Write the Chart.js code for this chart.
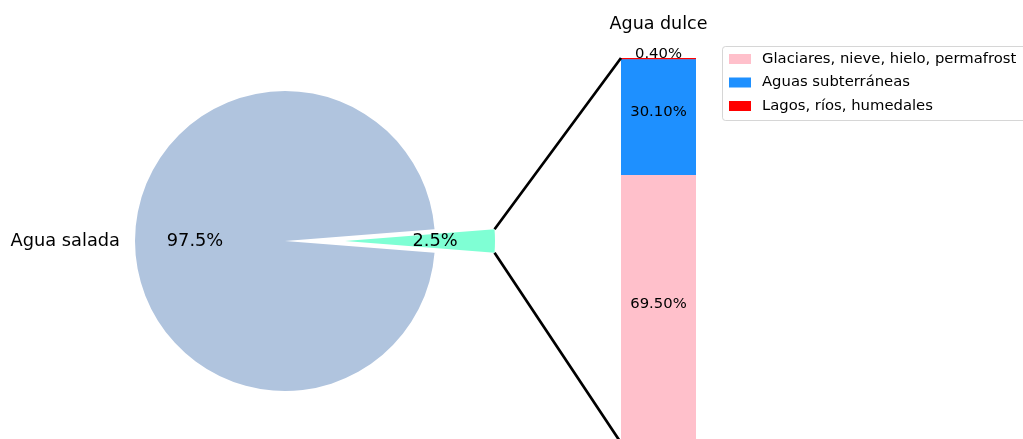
<!DOCTYPE html>
<html>
<head>
<meta charset="utf-8">
<script src="https://cdn.jsdelivr.net/npm/chart.js@4/dist/chart.umd.min.js"></script>
<style>
  html, body { margin: 0; padding: 0; background: #fff; overflow: hidden; }
  #wrap { position: relative; width: 1023px; height: 439px; }
  #wrap canvas { position: absolute; left: 0; top: 0; }
</style>
</head>
<body>
<div id="wrap">
  <canvas id="pie" width="1023" height="439"></canvas>
  <canvas id="wedge" width="1023" height="439"></canvas>
  <canvas id="bar" width="1023" height="439"></canvas>
</div>
<script>
var pieLabels = ["Agua salada", ""];
var pieValues = [97.5, 2.5];
var pieColors = ["#B0C4DE", "#7FFFD4"];

var barTitle = "Agua dulce";
var barLabels = ["Glaciares, nieve, hielo, permafrost", "Aguas subterráneas", "Lagos, ríos, humedales"];
var barValues = [69.5, 30.1, 0.4];
var barColors = ["#FFC0CB", "#1E90FF", "#FF0000"];

var FONT = "'DejaVu Sans', sans-serif";

// text for the slices; each pie canvas shows only one slice
var pieText = {
  id: 'pieText',
  afterDatasetsDraw: function(chart, args, opts) {
    var c = chart.ctx;
    var i = opts.slice;
    var arc = chart.getDatasetMeta(0).data[i];
    var mid = (arc.startAngle + arc.endAngle) / 2;
    var r = arc.outerRadius;
    c.save();
    c.fillStyle = '#000';
    c.textBaseline = 'middle';
    c.font = '17.8px ' + FONT;
    c.textAlign = 'center';
    c.fillText(pieValues[i].toFixed(1) + '%', arc.x + Math.cos(mid) * r * 0.6, arc.y + Math.sin(mid) * r * 0.6);
    if (pieLabels[i]) {
      var lx = arc.x + Math.cos(mid) * r * 1.1;
      c.textAlign = lx < arc.x ? 'right' : 'left';
      c.fillText(pieLabels[i], lx, arc.y + Math.sin(mid) * r * 1.1);
    }
    c.restore();
  }
};

function makePie(id, slice, pad) {
  return new Chart(document.getElementById(id), {
    type: 'pie',
    data: {
      labels: pieLabels,
      datasets: [{
        data: pieValues,
        backgroundColor: pieColors.map(function(col, k) { return k === slice ? col : 'rgba(0,0,0,0)'; }),
        borderWidth: 0
      }]
    },
    options: {
      responsive: false,
      animation: false,
      events: [],
      radius: 150,
      rotation: 90 + pieValues[1] / 100 * 360 / 2,
      layout: { padding: pad },
      plugins: { legend: { display: false }, tooltip: { enabled: false }, pieText: { slice: slice } }
    },
    plugins: [pieText]
  });
}

var pieChart = makePie('pie', 0, { left: 0, right: 453, top: 43, bottom: 0 });
// the fresh-water wedge, pulled out to the right
var wedgeChart = makePie('wedge', 1, { left: 60, right: 393, top: 43, bottom: 0 });

var barExtras = {
  id: 'barExtras',
  afterDatasetsDraw: function(chart) {
    var c = chart.ctx;
    var n = chart.data.datasets.length;
    var top = chart.getDatasetMeta(n - 1).data[0];
    var bottom = chart.getDatasetMeta(0).data[0];
    c.save();

    // title
    c.fillStyle = '#000';
    c.font = '17.5px ' + FONT;
    c.textAlign = 'center';
    c.textBaseline = 'middle';
    c.fillText(barTitle, top.x, 24);

    // value labels
    c.font = '14.8px ' + FONT;
    chart.data.datasets.forEach(function(ds, i) {
      var bar = chart.getDatasetMeta(i).data[0];
      c.fillText(ds.data[0].toFixed(2) + '%', bar.x, (bar.y + bar.base) / 2 - 5);
    });

    // connecting lines to the wedge (startAngle = upper corner on canvas)
    var arc = wedgeChart.getDatasetMeta(0).data[1];
    var r = arc.outerRadius;
    var left = top.x - top.width / 2;
    c.strokeStyle = '#000';
    c.lineWidth = 2.7;
    c.beginPath();
    c.moveTo(left, top.y);
    c.lineTo(arc.x + Math.cos(arc.startAngle) * r, arc.y + Math.sin(arc.startAngle) * r);
    c.moveTo(left, bottom.base);
    c.lineTo(arc.x + Math.cos(arc.endAngle) * r, arc.y + Math.sin(arc.endAngle) * r);
    c.stroke();

    // legend
    var lx = 722, ly = 46, lw = 320, lh = 74;
    c.strokeStyle = 'rgba(204,204,204,0.8)';
    c.fillStyle = 'rgba(255,255,255,0.8)';
    c.lineWidth = 1;
    c.beginPath();
    c.roundRect(lx + 0.5, ly + 0.5, lw, lh, 3);
    c.fill();
    c.stroke();
    c.font = '14.8px ' + FONT;
    c.textAlign = 'left';
    chart.data.datasets.forEach(function(ds, i) {
      var yy = ly + 13 + i * 23.5;
      c.fillStyle = ds.backgroundColor;
      c.fillRect(lx + 7, yy - 5, 22, 10);
      c.fillStyle = '#000';
      c.fillText(ds.label, lx + 40, yy);
    });
    c.restore();
  }
};

var barChart = new Chart(document.getElementById('bar'), {
  type: 'bar',
  data: {
    labels: [''],
    datasets: barLabels.map(function(lab, i) {
      return {
        label: lab,
        data: [barValues[i]],
        backgroundColor: barColors[i],
        borderWidth: 0,
        barPercentage: 1,
        categoryPercentage: 1
      };
    })
  },
  options: {
    responsive: false,
    animation: false,
    events: [],
    layout: { padding: { left: 621, right: 327, top: 58, bottom: 0 } },
    scales: {
      x: { stacked: true, display: false },
      y: { stacked: true, display: false, min: 1, max: 100 }
    },
    plugins: { legend: { display: false }, tooltip: { enabled: false } }
  },
  plugins: [barExtras]
});
</script>
</body>
</html>
